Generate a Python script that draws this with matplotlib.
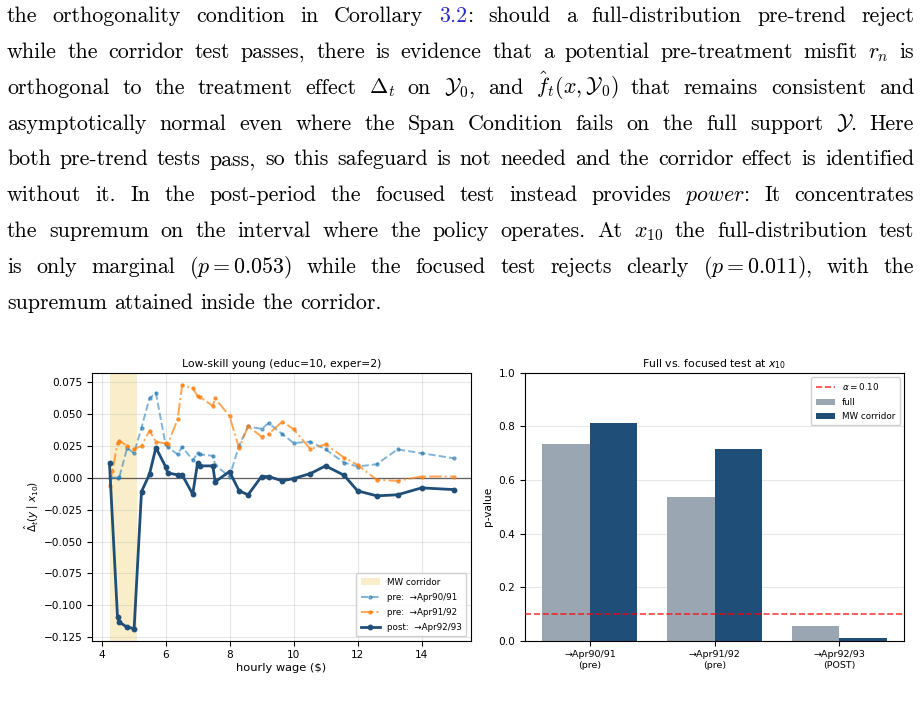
import matplotlib
matplotlib.use('Agg')
import matplotlib.pyplot as plt
import numpy as np
from matplotlib.patches import Patch

# ---------------- data ----------------
wage_grid = [4.25, 4.50, 4.56, 4.80, 5.02, 5.25, 5.50, 5.70, 6.00, 6.07, 6.38, 6.52,
             6.85, 7.00, 7.07, 7.48, 7.55, 8.00, 8.30, 8.58, 9.00, 9.22, 9.65, 10.00,
             10.53, 11.00, 11.58, 12.00, 12.60, 13.25, 14.00, 15.00]
pre_9091 = [0.000, 0.000, 0.0005, 0.023, 0.019, 0.039, 0.062, 0.066, 0.026, 0.024, 0.018, 0.024,
            0.0136, 0.0188, 0.018, 0.017, 0.010, 0.0005, 0.025, 0.040, 0.038, 0.0425, 0.034, 0.027,
            0.028, 0.022, 0.0117, 0.0086, 0.0104, 0.022, 0.019, 0.0151]
wage_grid_9192 = [4.25, 4.34, 4.50, 4.56, 4.80, 5.02, 5.25, 5.50, 5.70, 6.00, 6.07, 6.38, 6.52,
                  6.85, 7.00, 7.07, 7.48, 7.55, 8.00, 8.30, 8.58, 9.00, 9.22, 9.65, 10.00,
                  10.53, 11.00, 11.58, 12.00, 12.60, 13.25, 14.00, 15.00]
pre_9192 = [-0.0065, 0.005, 0.027, 0.0287, 0.0248, 0.022, 0.0248, 0.0365, 0.028, 0.0266, 0.026, 0.0456, 0.0724,
            0.0698, 0.0638, 0.063, 0.056, 0.062, 0.048, 0.023, 0.040, 0.032, 0.034, 0.0437, 0.0378,
            0.0222, 0.026, 0.0156, 0.0099, -0.0018, -0.0026, 0.0008, 0.0008]
post_9293 = [0.011, -0.109, -0.113, -0.117, -0.118, -0.011, 0.0026, 0.0234, 0.0086, 0.0036, 0.0021, 0.0021,
             -0.013, 0.011, 0.0091, 0.0091, -0.0034, 0.0047, -0.0104, -0.0135, 0.0008, 0.0008, -0.0026, -0.0008,
             0.0031, 0.0091, 0.0018, -0.0104, -0.0143, -0.0135, -0.0081, -0.0094]
corridor = [4.25, 5.10]

comparisons = ["\u2192Apr90/91\n(pre)", "\u2192Apr91/92\n(pre)", "\u2192Apr92/93\n(POST)"]
p_full = [0.733, 0.538, 0.053]
p_mw = [0.814, 0.714, 0.011]
alpha_level = 0.10

# ---------------- figure ----------------
W, H = 921, 720
fig = plt.figure(figsize=(W / 100, H / 100), dpi=100)
renderer = fig.canvas.get_renderer()

# paragraph text (justified)
lines = [
    [[("the", 'k')], [("orthogonality", 'k')], [("condition", 'k')], [("in", 'k')], [("Corollary", 'k')],
     [("3.2", '#2a2ad0'), (":", 'k')], [("should", 'k')], [("a", 'k')], [("full-distribution", 'k')],
     [("pre-trend", 'k')], [("reject", 'k')]],
    [[(w, 'k')] for w in "while the corridor test passes, there is evidence that a potential pre-treatment misfit".split()]
    + [[(r"$r_n$", 'k')], [("is", 'k')]],
    [[(w, 'k')] for w in "orthogonal to the treatment effect".split()]
    + [[(r"$\Delta_t$", 'k')], [("on", 'k')], [(r"$\mathcal{Y}_0$,", 'k')], [("and", 'k')],
       [(r"$\hat{f}_t(x,\mathcal{Y}_0)$", 'k')]]
    + [[(w, 'k')] for w in "that remains consistent and".split()],
    [[(w, 'k')] for w in "asymptotically normal even where the Span Condition fails on the full support".split()]
    + [[(r"$\mathcal{Y}$.", 'k')], [("Here", 'k')]],
    [[(w, 'k')] for w in "both pre-trend tests pass, so this safeguard is not needed and the corridor effect is identified".split()],
    [[(w, 'k')] for w in "without it. In the post-period the focused test instead provides".split()]
    + [[(r"$\mathit{power}$:", 'k')], [("It", 'k')], [("concentrates", 'k')]],
    [[(w, 'k')] for w in "the supremum on the interval where the policy operates. At".split()]
    + [[(r"$x_{10}$", 'k')]] + [[(w, 'k')] for w in "the full-distribution test".split()],
    [[("is", 'k')], [("only", 'k')], [("marginal", 'k')], [(r"($p = 0.053$)", 'k')], [("while", 'k')],
     [("the", 'k')], [("focused", 'k')], [("test", 'k')], [("rejects", 'k')], [("clearly", 'k')],
     [(r"($p = 0.011$),", 'k')], [("with", 'k')], [("the", 'k')]],
    [[(w, 'k')] for w in "supremum attained inside the corridor.".split()],
]

FS = 15.8
L_px, R_px = 7, 914
base0, dy = 22.0, 35.85


def make_text(s, color):
    return fig.text(0, 0, s, fontsize=FS, color=color, family='cmr10', math_fontfamily='cm',
                    va='baseline', ha='left')


space_t = fig.text(0, 0, "a a", fontsize=FS, family='cmr10')
aa_t = fig.text(0, 0, "aa", fontsize=FS, family='cmr10')
space_w = space_t.get_window_extent(renderer).width - aa_t.get_window_extent(renderer).width
space_t.remove()
aa_t.remove()

for li, words in enumerate(lines):
    wtexts = []
    total = 0.0
    for word in words:
        pieces = []
        ww = 0.0
        for s, c in word:
            t = make_text(s, c)
            w = t.get_window_extent(renderer).width
            pieces.append((t, w))
            ww += w
        wtexts.append((pieces, ww))
        total += ww
    n = len(wtexts)
    if li == len(lines) - 1:
        gap = space_w
    else:
        gap = (R_px - L_px - total) / (n - 1)
    x = L_px
    yb = base0 + li * dy
    for pieces, ww in wtexts:
        xp = x
        for t, w in pieces:
            t.set_position((xp / W, 1 - yb / H))
            xp += w
        x += ww + gap

# ---------------- left chart ----------------
ax1 = fig.add_axes([92.3 / W, 1 - 640.7 / H, (470.7 - 92.3) / W, (640.7 - 372.7) / H])
ax1.axvspan(corridor[0], corridor[1], color='#f0c850', alpha=0.3, lw=0, zorder=0)
ax1.grid(True, alpha=0.3, zorder=0)
ax1.axhline(0, color='black', lw=0.9, alpha=0.75, zorder=1)
l1, = ax1.plot(wage_grid, pre_9091, ls='--', color='tab:blue', alpha=0.55, lw=1.4,
               marker='o', ms=2.2, zorder=2)
l2, = ax1.plot(wage_grid_9192, pre_9192, ls='-.', color='tab:orange', alpha=0.7, lw=1.4,
               marker='o', ms=2.2, zorder=2)
l3, = ax1.plot(wage_grid, post_9293, ls='-', color='#1f4e79', lw=2.0,
               marker='o', ms=3.2, zorder=3)
ax1.set_xticks([4, 6, 8, 10, 12, 14])
ax1.set_yticks([0.075, 0.05, 0.025, 0.0, -0.025, -0.05, -0.075, -0.1, -0.125])
ax1.set_yticklabels(['0.075', '0.050', '0.025', '0.000', '\u22120.025', '\u22120.050',
                     '\u22120.075', '\u22120.100', '\u22120.125'])
ax1.tick_params(labelsize=7.6, length=3.5)
ax1.set_xlabel('hourly wage ($)', fontsize=8.2, labelpad=2)
ax1.set_ylabel(r'$\hat{\Delta}_t(y\mid x_{10})$', fontsize=7.6, labelpad=2)
ax1.set_title('Low-skill young (educ=10, exper=2)', fontsize=7.8, pad=4)
h_patch = Patch(facecolor='#f0c850', alpha=0.3, edgecolor='none')
ax1.legend([h_patch, l1, l2, l3],
           ['MW corridor', 'pre:  \u2192Apr90/91', 'pre:  \u2192Apr91/92', 'post:  \u2192Apr92/93'],
           loc='lower right', fontsize=6.3, framealpha=0.9, borderpad=0.5, labelspacing=0.7,
           handlelength=2.2)

# ---------------- right chart ----------------
ax2 = fig.add_axes([525 / W, 1 - 640.7 / H, (904 - 525) / W, (640.7 - 372.7) / H])
xpos = np.arange(len(comparisons))
bw = 0.38
ax2.grid(True, axis='y', alpha=0.3, zorder=0)
b1 = ax2.bar(xpos - bw / 2, p_full, bw, color='#9aa6b1', zorder=2)
b2 = ax2.bar(xpos + bw / 2, p_mw, bw, color='#1f4e79', zorder=2)
la = ax2.axhline(alpha_level, color='red', ls='--', lw=1.2, alpha=0.75, zorder=3)
ax2.set_ylim(0, 1.0)
ax2.set_xlim(-0.52, 2.52)
ax2.set_xticks(xpos)
ax2.set_xticklabels(comparisons, fontsize=6.8)
ax2.tick_params(axis='y', labelsize=7.6, length=3.5)
ax2.tick_params(axis='x', length=3.5)
ax2.set_ylabel('p-value', fontsize=7.6, labelpad=4)
ax2.set_title(r'Full vs. focused test at $x_{10}$', fontsize=7.8, pad=4)
ax2.legend([la, b1, b2], [r'$\alpha = 0.10$', 'full', 'MW corridor'],
           loc='upper right', fontsize=6.3, framealpha=0.9, borderpad=0.5, labelspacing=0.6,
           handlelength=2.2)

fig.savefig('out.png', dpi=100)
